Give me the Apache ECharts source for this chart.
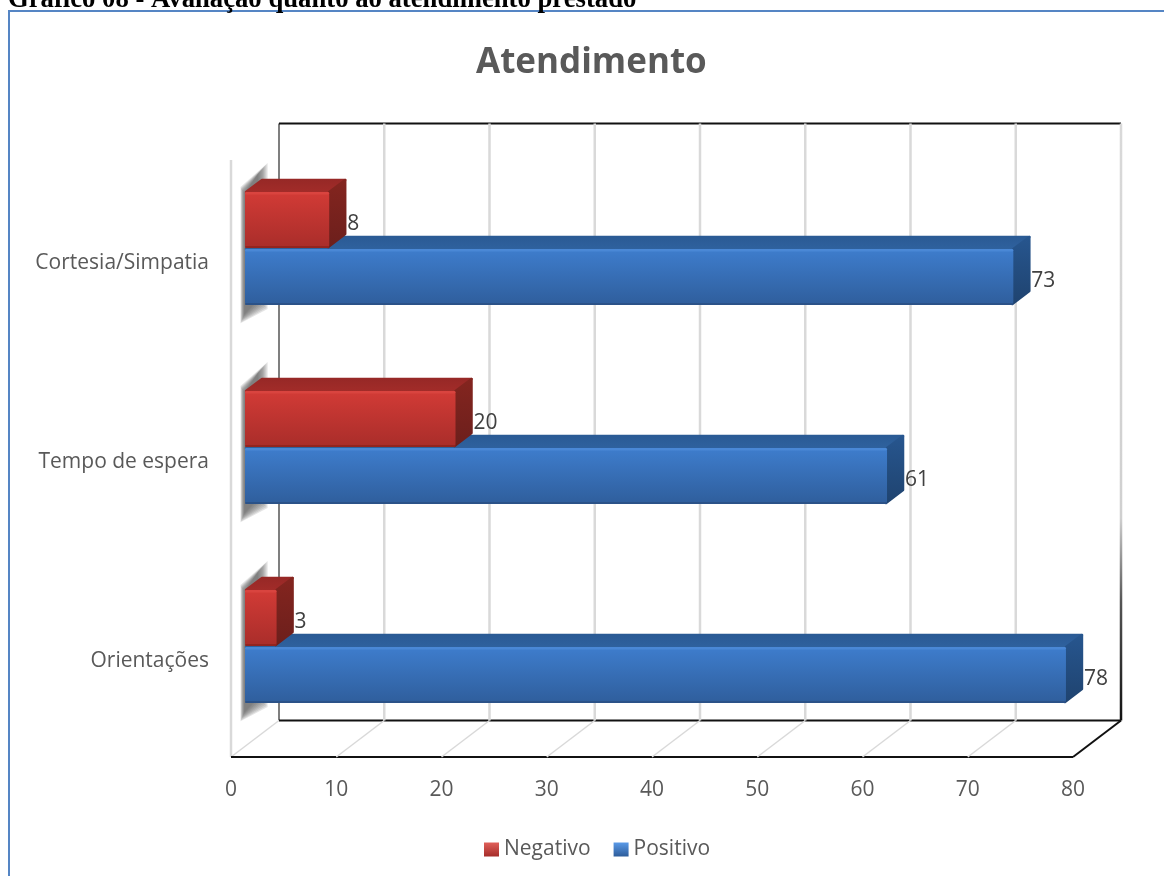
<!DOCTYPE html>
<html><head><meta charset="utf-8">
<style>html,body{margin:0;padding:0;background:#fff}#c{width:1164px;height:876px}</style>
<script src="https://cdn.jsdelivr.net/npm/echarts@6/dist/echarts.min.js"></script>
</head><body><div id="c"></div>
<script>
const categories = ['Orientações', 'Tempo de espera', 'Cortesia/Simpatia'];
const negativo = [3, 20, 8];
const positivo = [78, 61, 73];
const ticks = [0, 10, 20, 30, 40, 50, 60, 70, 80];

const LBL = '#595959', FONT = '"Open Sans", sans-serif';
const WALL = { x: 48, y: -36.5 };
const PLANE = { x: 14, y: -10.5 };
const BAR = { x: 17, y: -13 };
const BAR_RATIO = 0.2814;
const v = (a, b) => ({ type: 'linear', x: 0, y: 0, x2: 0, y2: 1, colorStops: [{ offset: 0, color: a }, { offset: 1, color: b }] });
const BLUE = { rim: '#4a88d6', front: v('#3e7dcd', '#2f5e9c'), edge: '#2b5288', top: v('#2a5a94', '#2f629f'), side: v('#27568f', '#1f436f') };
const RED = { rim: '#d9443f', front: v('#d23b36', '#a92d2a'), edge: '#93241f', top: v('#962826', '#a32c29'), side: v('#84251f', '#6c1f1c') };

function barItem(pal, stacked) {
  return function (params, api) {
    const value = api.value(0), cat = api.value(1);
    const base = api.coord([0, cat]), end = api.coord([value, cat]);
    const h = api.size([0, 1])[1] * BAR_RATIO;
    const x0 = base[0] + PLANE.x, x1 = end[0] + PLANE.x;
    const yTop = base[1] + PLANE.y + (stacked ? -h - 1 : 0), yBot = yTop + h;
    const face = (points, fill) => ({ type: 'polygon', shape: { points }, style: { fill, stroke: fill, lineWidth: 2.5, lineJoin: 'round' } });
    return {
      type: 'group',
      children: [
        face([[x0 + 1, yTop], [x0 + BAR.x, yTop + BAR.y + 1], [x1 + BAR.x - 1, yTop + BAR.y + 1], [x1, yTop]], pal.top),
        face([[x1, yTop], [x1 + BAR.x - 1, yTop + BAR.y + 1], [x1 + BAR.x - 1, yBot + BAR.y - 1], [x1 - 1, yBot - 1]], pal.side),
        { type: 'rect', shape: { x: x0, y: yTop, width: x1 - x0, height: h, r: 3 }, style: { fill: pal.front } },
        { type: 'rect', shape: { x: x0, y: yTop, width: x1 - x0, height: 2.5, r: 1.5 }, style: { fill: pal.rim } },
        { type: 'rect', shape: { x: x0, y: yBot - 2, width: x1 - x0, height: 2, r: 1 }, style: { fill: pal.edge } },
        { type: 'text', style: { text: String(value), x: x1 + BAR.x + 1, y: (yTop + yBot) / 2 + 4, fill: '#404040',
            font: '21px ' + FONT, textAlign: 'left', textVerticalAlign: 'middle' } }
      ]
    };
  };
}

function wallItem(params, api) {
  const t = api.value(0), sys = params.coordSys;
  const p = api.coord([t, 0]);
  const x = p[0], top = sys.y, bot = sys.y + sys.height;
  const first = t === ticks[0], last = t === ticks[ticks.length - 1];
  const line = (x1, y1, x2, y2, stroke, lineWidth) => ({ type: 'line', shape: { x1, y1, x2, y2 }, style: { stroke, lineWidth } });
  const light = '#d9d9d9';
  const kids = [];
  let backStroke = light, backW = 2.5;
  if (first) { backStroke = '#555555'; backW = 1.5; }
  if (last) { backStroke = { type: 'linear', x: 0, y: 0, x2: 0, y2: 1, colorStops: [{ offset: 0, color: light }, { offset: 0.66, color: '#d0d0d0' }, { offset: 0.8, color: '#555' }, { offset: 1, color: '#111' }] }; }
  kids.push(line(x + WALL.x, top + WALL.y, x + WALL.x, bot + WALL.y, backStroke, backW));
  kids.push(line(x, bot, x + WALL.x, bot + WALL.y, last ? '#111111' : light, last ? 2 : 1.5));
  if (first) {
    kids.push(line(x, top, x, bot, light, 2.5));
    kids.push(line(x + WALL.x, top + WALL.y, sys.x + sys.width + WALL.x, top + WALL.y, '#111111', 2.2));
    kids.push(line(x + WALL.x, bot + WALL.y, sys.x + sys.width + WALL.x, bot + WALL.y, '#111111', 2.2));
    kids.push(line(x, bot, sys.x + sys.width, bot, '#111111', 2.2));
  }
  return { type: 'group', children: kids };
}

function shadowItem(params, api) {
  const p = api.coord([0, api.value(0)]);
  const x = p[0] + 14, cy = p[1];
  const kids = [];
  for (let i = 0; i < 9; i++) {
    kids.push({
      type: 'polygon',
      shape: { points: [[x - 0.5 - i * 0.5, cy - 66 - i * 0.8], [x + 13 + i * 1.2, cy - 86 - i * 1.3], [x + 13 + i * 1.2, cy + 40 + i * 1.2], [x - 0.5 - i * 0.5, cy + 55 + i * 1.1]] },
      style: { fill: 'rgba(100,100,100,0.17)' }
    });
  }
  return { type: 'group', children: kids };
}

const chart = echarts.init(document.getElementById('c'), null, { renderer: 'canvas' });
chart.setOption({
  animation: false,
  backgroundColor: '#fff',
  title: [
    { text: 'Gráfico 08 - Avaliação quanto ao atendimento prestado', left: 8, top: -13, padding: 0,
      textStyle: { fontFamily: '"Liberation Serif", serif', fontWeight: 'bold', fontSize: 26.7, color: '#000' } },
    { text: 'Atendimento', left: 476, top: 46, padding: 0,
      textStyle: { fontFamily: FONT, fontWeight: 'bold', fontSize: 35, color: LBL } }
  ],
  grid: { left: 231, top: 160, width: 842, height: 597, containLabel: false },
  xAxis: { type: 'value', min: 0, max: 80, interval: 10, splitLine: { show: false }, axisLine: { show: false }, axisTick: { show: false },
    axisLabel: { color: LBL, fontSize: 21, fontFamily: FONT, margin: 23 } },
  yAxis: { type: 'category', data: categories, axisLine: { show: false }, axisTick: { show: false }, splitLine: { show: false },
    axisLabel: { margin: 22, formatter: '{a|{value}}',
      rich: { a: { color: LBL, fontSize: 21, fontFamily: FONT, padding: [7, 0, 0, 0] } } } },
  legend: { left: 484, top: 839, padding: 0, icon: 'rect', itemWidth: 15, itemHeight: 14, itemGap: 23,
    textStyle: { color: LBL, fontSize: 21, fontFamily: FONT },
    data: [
      { name: 'Negativo', itemStyle: { color: v('#e0605a', '#a52c29') } },
      { name: 'Positivo', itemStyle: { color: v('#5a9ae8', '#2d5c9a') } }
    ] },
  graphic: [{ type: 'polyline', silent: true, shape: { points: [[9, 876], [9, 11], [1164, 11]] }, style: { stroke: '#5585c4', lineWidth: 2, fill: 'none' } }],
  series: [
    { type: 'custom', name: 'paredes', coordinateSystem: 'cartesian2d', data: ticks.map(t => [t]), encode: { x: 0 }, renderItem: wallItem, silent: true, z: 1 },
    { type: 'custom', name: 'sombra', coordinateSystem: 'cartesian2d', data: categories.map((c, i) => [i]), encode: { y: 0 }, renderItem: shadowItem, silent: true, z: 2 },
    { type: 'custom', name: 'Positivo', coordinateSystem: 'cartesian2d', data: positivo.map((d, i) => [d, i]), encode: { x: 0, y: 1 }, renderItem: barItem(BLUE, false), itemStyle: { color: '#3468ab' }, z: 3 },
    { type: 'custom', name: 'Negativo', coordinateSystem: 'cartesian2d', data: negativo.map((d, i) => [d, i]), encode: { x: 0, y: 1 }, renderItem: barItem(RED, true), itemStyle: { color: '#c0332f' }, z: 4 }
  ]
});
</script></body></html>
